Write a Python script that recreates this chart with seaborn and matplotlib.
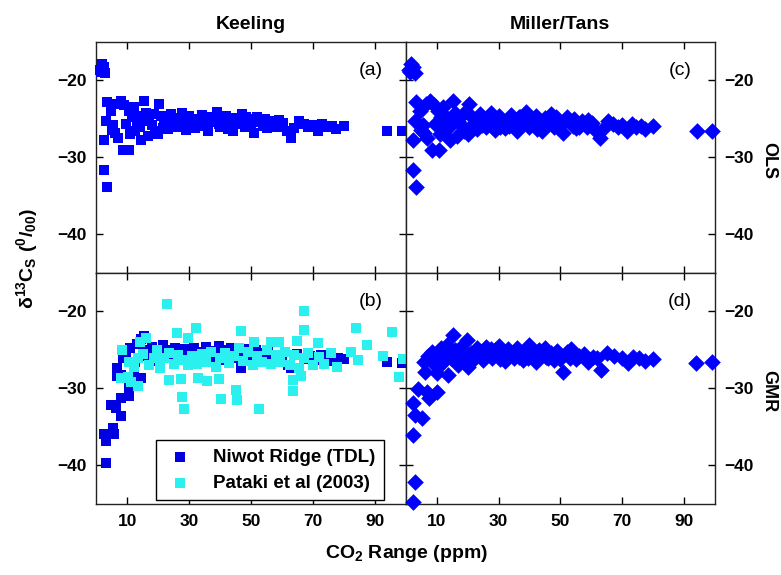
import numpy as np
import pandas as pd
import seaborn as sns
import matplotlib
matplotlib.use("Agg")
import matplotlib.pyplot as plt
from matplotlib import font_manager

# ---------------- data ----------------
col_titles = ["Keeling", "Miller/Tans"]
row_titles = ["OLS", "GMR"]
panel_tags = ["(a)", "(c)", "(b)", "(d)"]
x_ticks = [10, 30, 50, 70, 90]
y_ticks = [-20, -30, -40]
legend_labels = ["Niwot Ridge (TDL)", "Pataki et al (2003)"]

# OLS (same for Keeling and Miller/Tans)
ols_x = [1.0, 1.8, 2.5, 2.9, 1.4, 3.4, 3.1, 2.5, 2.3, 3.4,
         4.6, 5.5, 6.0, 7.0, 7.9, 9.0, 8.5, 10.6, 10.5, 11.5,
         12.0, 12.5, 11.0, 13.0, 14.4, 15.4, 16.0, 14.0, 17.0, 16.6,
         18.0, 19.0, 20.3, 20.0, 21.0, 22.0, 23.0, 24.0, 25.0, 26.0,
         27.0, 28.0, 29.0, 30.0, 31.0, 32.0, 33.0, 34.0, 35.0, 36.0,
         37.0, 38.0, 39.0, 40.0, 41.0, 42.0, 43.0, 44.0, 45.0, 46.0,
         47.0, 48.0, 49.0, 50.0, 51.0, 52.0, 53.0, 54.0, 55.0, 57.0,
         58.5, 60.2, 61.5, 62.8, 64.0, 65.4, 67.0, 68.5, 70.0, 71.5,
         73.0, 74.5, 76.0, 77.4, 80.0, 94.1, 98.9,
         15.5, 18.5, 21.5, 24.5, 27.5, 30.5, 33.5, 36.5, 39.5, 42.5,
         45.5, 48.5, 51.5, 54.5, 56.0, 59.0, 6.5, 9.5, 12.8, 5.0]
ols_y = [-18.6, -17.8, -18.3, -19.0, -18.9, -22.8, -25.3, -27.7, -31.6, -33.8,
         -24.0, -25.8, -26.8, -27.5, -22.7, -23.2, -29.0, -29.0, -24.0, -24.8,
         -23.5, -26.5, -27.0, -25.5, -27.7, -22.7, -24.2, -26.0, -25.2, -27.2,
         -25.8, -26.5, -23.1, -27.0, -24.6, -25.5, -26.3, -24.4, -25.1, -26.0,
         -24.9, -25.7, -26.4, -24.6, -25.3, -26.2, -25.0, -24.5, -25.8, -26.5,
         -24.8, -25.4, -24.1, -26.0, -25.2, -24.6, -25.9, -26.6, -24.9, -25.5,
         -24.3, -26.1, -25.0, -25.6, -26.8, -24.8, -25.4, -25.9, -26.2, -25.2,
         -26.0, -25.5, -26.6, -27.5, -26.2, -25.3, -25.6, -26.0, -25.8, -26.6,
         -25.7, -26.1, -25.9, -26.3, -25.9, -26.5, -26.5,
         -25.0, -24.3, -26.2, -25.8, -24.2, -26.0, -25.9, -24.7, -25.7, -26.3,
         -25.6, -24.8, -25.3, -25.0, -26.0, -25.1, -23.0, -25.6, -24.6, -26.4]

# GMR Keeling, Niwot Ridge
kg_x = [3.1, 3.1, 2.5, 5.8, 5.2, 4.7, 6.3, 7.9, 7.9, 10.6,
        10.6, 6.8, 7.9, 6.8, 8.5, 9.5, 11.0, 12.5, 13.0, 14.5,
        15.5, 16.0, 14.4, 12.0, 17.0, 18.0, 19.0, 20.0, 21.5, 22.5,
        23.5, 24.5, 25.5, 26.5, 27.5, 28.5, 29.5, 30.5, 31.5, 32.5,
        33.5, 34.5, 35.5, 36.5, 37.5, 38.5, 39.7, 40.5, 41.5, 42.5,
        43.5, 44.5, 45.5, 46.7, 47.5, 48.5, 49.5, 50.5, 51.5, 53.1,
        54.0, 55.0, 57.0, 60.0, 62.0, 62.8, 65.0, 67.0, 69.0, 71.0,
        72.5, 74.5, 76.0, 78.0, 80.0, 94.1, 98.9,
        16.5, 19.5, 22.0, 25.0, 28.0, 31.0, 34.0, 37.0, 40.0, 43.0,
        46.0, 49.0, 52.0, 55.5, 58.5]
kg_y = [-39.7, -36.8, -35.9, -35.9, -35.1, -32.1, -32.5, -31.2, -33.6, -31.0,
        -29.7, -27.3, -28.2, -28.4, -26.0, -25.5, -24.8, -26.5, -24.2, -23.6,
        -23.2, -25.8, -28.6, -28.0, -26.8, -24.6, -25.3, -26.4, -24.3, -25.0,
        -26.1, -25.4, -24.7, -26.0, -25.3, -24.9, -26.3, -25.6, -24.8, -25.9,
        -26.4, -25.2, -24.6, -25.7, -26.2, -25.1, -24.5, -25.8, -26.3, -25.0,
        -24.7, -25.6, -26.1, -27.3, -25.2, -24.9, -25.7, -26.4, -25.0, -25.4,
        -26.0, -25.6, -25.6, -25.9, -27.0, -27.3, -25.5, -26.2, -25.8, -26.3,
        -25.7, -26.0, -26.4, -26.1, -26.2, -26.6, -26.7,
        -25.0, -26.1, -25.7, -26.3, -25.9, -25.2, -25.5, -26.5, -25.3, -26.0,
        -25.9, -26.2, -26.3, -25.2, -26.1]

# GMR, Pataki et al (2003)
pk_x = [22.8, 67.1, 32.1, 83.8, 46.8, 67.0, 95.6, 25.9, 29.5, 16.0,
        14.0, 71.5, 87.4, 51.0, 56.5, 59.0, 65.0, 8.1, 10.1, 7.9,
        13.3, 11.3, 23.3, 27.3, 32.7, 35.9, 39.7, 27.8, 28.4, 40.2,
        45.4, 45.1, 52.6, 63.4, 63.4, 66.0, 97.8, 99.0, 77.7, 84.5,
        82.4, 75.8, 92.6,
        10.5, 12.0, 13.5, 15.0, 17.0, 18.5, 19.5, 20.5, 22.0, 23.5,
        25.0, 26.5, 28.0, 29.5, 31.0, 32.5, 34.0, 35.5, 37.0, 38.5,
        40.0, 41.5, 43.0, 44.5, 46.0, 47.5, 49.0, 50.5, 52.0, 53.5,
        55.0, 56.5, 58.0, 59.5, 61.0, 62.5, 64.0, 65.5, 67.0, 68.5,
        70.0, 72.0, 73.5]
pk_y = [-19.0, -19.9, -22.1, -22.1, -22.5, -22.4, -22.7, -22.8, -23.5, -23.5,
        -24.0, -24.1, -24.3, -24.0, -24.0, -24.0, -23.8, -25.0, -28.5, -28.6,
        -29.7, -29.1, -28.9, -28.8, -28.7, -29.0, -28.8, -31.1, -32.7, -31.4,
        -31.5, -30.2, -32.7, -30.3, -28.9, -28.4, -28.5, -26.2, -27.2, -26.3,
        -25.2, -25.4, -25.8,
        -26.5, -27.2, -26.0, -25.5, -27.0, -26.0, -25.0, -27.3, -26.0, -25.4,
        -26.8, -25.6, -26.3, -27.0, -25.8, -26.8, -25.5, -26.6, -25.2, -27.2,
        -26.0, -25.4, -26.7, -25.8, -24.8, -26.4, -25.3, -27.0, -25.8, -26.6,
        -25.0, -26.8, -25.7, -26.5, -25.2, -26.9, -25.6, -27.3, -26.0, -25.4,
        -27.0, -25.9, -26.8]

# GMR Miller/Tans
mg_x = [2.2, 3.1, 2.5, 2.5, 3.1, 5.2, 4.1, 6.8, 7.4, 10.1,
        5.8, 6.3, 10.0, 11.0, 13.8, 15.4, 19.8, 17.0, 20.0, 8.5,
        9.5, 11.5, 12.5, 13.5, 14.5, 16.0, 18.0, 21.0, 22.0, 23.0,
        24.0, 25.0, 26.0, 27.0, 28.0, 29.0, 30.0, 31.0, 32.0, 33.0,
        34.0, 35.0, 36.0, 37.0, 38.0, 39.0, 40.0, 41.0, 42.0, 43.0,
        44.0, 45.0, 46.0, 47.0, 48.0, 49.0, 51.0, 52.0, 53.0, 54.0,
        55.0, 57.5, 60.6, 63.1, 65.0, 67.5, 70.0, 71.8, 73.5, 75.5,
        77.5, 79.8, 93.9, 98.9,
        7.2, 9.0, 12.0, 15.0, 18.5, 21.5, 24.5, 27.5, 30.5, 33.5,
        36.5, 39.5, 42.5, 45.5, 48.5, 50.0, 53.5, 56.0, 59.0, 62.0]
mg_y = [-44.8, -42.1, -36.0, -31.9, -33.5, -33.8, -30.1, -30.4, -31.2, -30.4,
        -26.5, -27.8, -28.0, -27.0, -28.2, -23.0, -23.7, -27.0, -27.2, -25.3,
        -26.2, -24.8, -25.6, -24.3, -26.0, -25.0, -24.6, -25.4, -26.2, -24.8,
        -25.5, -26.3, -24.6, -25.2, -26.1, -25.0, -24.5, -25.8, -26.4, -24.9,
        -25.5, -26.0, -24.7, -25.3, -26.3, -25.1, -24.4, -25.9, -26.5, -25.0,
        -25.6, -24.8, -26.1, -25.4, -26.3, -25.1, -27.8, -25.3, -26.0, -25.6,
        -26.2, -25.5, -25.9, -27.6, -25.4, -25.8, -26.0, -26.7, -25.9, -26.1,
        -26.4, -26.2, -26.7, -26.5,
        -25.8, -26.8, -26.6, -25.7, -26.0, -25.9, -26.0, -24.9, -26.2, -25.7,
        -25.9, -26.1, -25.3, -25.9, -25.4, -26.2, -24.9, -25.8, -26.5, -26.0]

# ---------------- fonts ----------------
avail = {f.name for f in font_manager.fontManager.ttflist}
fam = "Liberation Sans Narrow" if "Liberation Sans Narrow" in avail else "Liberation Sans"
plt.rcParams["font.family"] = [fam, "DejaVu Sans"]
plt.rcParams["mathtext.fontset"] = "custom"
plt.rcParams["mathtext.rm"] = f"{fam}:bold"
plt.rcParams["mathtext.bf"] = f"{fam}:bold"
plt.rcParams["mathtext.it"] = f"{fam}:bold"
plt.rcParams["mathtext.default"] = "bf"

BLUE = "#0000ff"
NAVY = "#0000e0"
CYAN = "#2af0f0"

fig = plt.figure(figsize=(7.81, 5.75), dpi=100)
gs = fig.add_gridspec(2, 2, left=0.1235, right=0.9155, top=0.927, bottom=0.1235,
                      wspace=0, hspace=0)
axes = [[fig.add_subplot(gs[r, c]) for c in range(2)] for r in range(2)]

sq = 56
dm = 72
sns.scatterplot(x=ols_x, y=ols_y, ax=axes[0][0], marker="s", s=sq, color=BLUE,
                linewidth=0, clip_on=False, zorder=3)
sns.scatterplot(x=ols_x, y=ols_y, ax=axes[0][1], marker="D", s=dm, color=BLUE,
                linewidth=0, clip_on=False, zorder=3)
sns.scatterplot(x=kg_x, y=kg_y, ax=axes[1][0], marker="s", s=sq, color=NAVY,
                linewidth=0, clip_on=False, zorder=3, label=legend_labels[0])
sns.scatterplot(x=pk_x, y=pk_y, ax=axes[1][0], marker="s", s=sq, color=CYAN,
                linewidth=0, clip_on=False, zorder=4, label=legend_labels[1])
sns.scatterplot(x=mg_x, y=mg_y, ax=axes[1][1], marker="D", s=dm, color=BLUE,
                linewidth=0, clip_on=False, zorder=3)

tags = [[panel_tags[0], panel_tags[1]], [panel_tags[2], panel_tags[3]]]
for r in range(2):
    for c in range(2):
        ax = axes[r][c]
        ax.set_xlim(0, 100)
        ax.set_ylim(-45, -15)
        ax.set_xticks(x_ticks)
        ax.set_yticks(y_ticks)
        ax.tick_params(direction="in", length=5, width=1, top=True, right=True,
                       bottom=True, left=True, labelsize=12.5, pad=7)
        for sp in ax.spines.values():
            sp.set_linewidth(1.0)
            sp.set_color("#222222")
        ax.set_xlabel("")
        ax.set_ylabel("")
        if r == 0:
            ax.tick_params(labelbottom=False)
        if c == 1:
            ax.tick_params(labelleft=False, labelright=True)
        for lab in ax.get_xticklabels() + ax.get_yticklabels():
            lab.set_fontweight("bold")
        ax.text(0.887, 0.878, tags[r][c], transform=ax.transAxes, fontsize=14,
                ha="center", va="center", family=["Liberation Sans", "DejaVu Sans"])

axes[0][0].set_title(col_titles[0], fontsize=14, fontweight="bold", pad=9)
axes[0][1].set_title(col_titles[1], fontsize=14, fontweight="bold", pad=9)

for r, t in enumerate(row_titles):
    ax = axes[r][1]
    yc = 0.5 * (ax.get_position().y0 + ax.get_position().y1)
    fig.text(0.984, yc - 0.005, t, rotation=270, fontsize=13, fontweight="bold",
             ha="center", va="center")

fig.text(0.035, 0.55, r"$\delta^{13}C_S\ (^{0}/_{00})$", rotation=90,
         fontsize=14, ha="center", va="center")
fig.text(0.52, 0.038, r"CO$_2$ Range (ppm)", fontsize=14, fontweight="bold",
         ha="center", va="center")

leg = axes[1][0].legend(loc="lower right", bbox_to_anchor=(0.93, 0.017),
                        frameon=True, fancybox=False, framealpha=1,
                        edgecolor="black", fontsize=13.5, handletextpad=1.0,
                        borderpad=0.45, labelspacing=0.45, handlelength=1.6,
                        borderaxespad=0, markerscale=1.0)
leg.get_frame().set_linewidth(1.0)
for txt in leg.get_texts():
    txt.set_fontweight("bold")

fig.savefig("out.png", dpi=100)
